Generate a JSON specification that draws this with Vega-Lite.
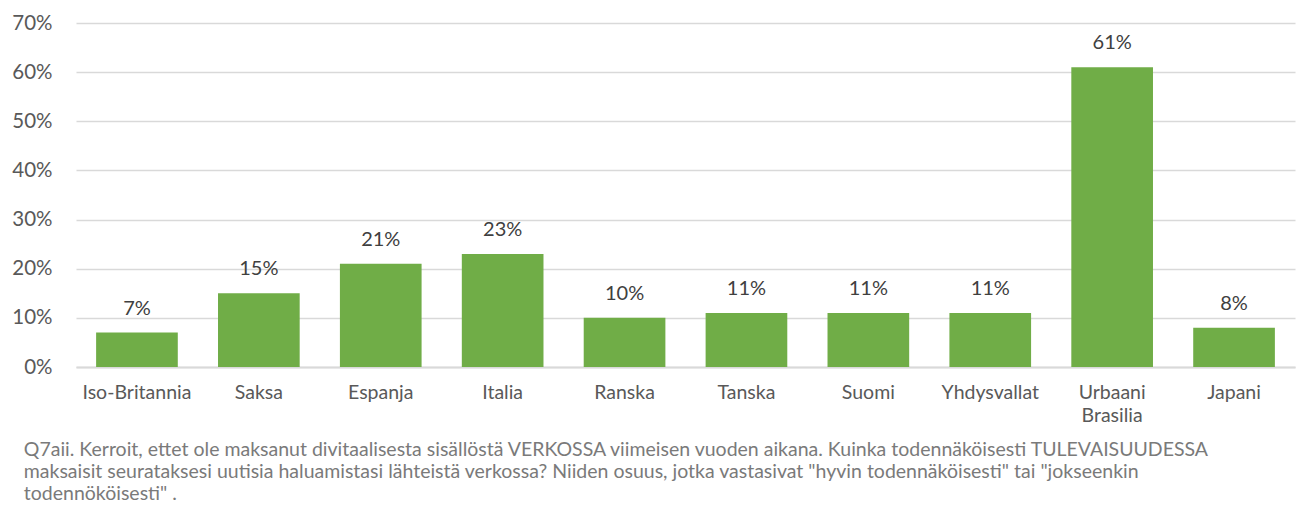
{
  "$schema": "https://vega.github.io/schema/vega-lite/v6.json",
  "width": 1219,
  "height": 344,
  "autosize": {"type": "none"},
  "padding": {"left": 76, "top": 23, "right": 11, "bottom": 165},
  "background": "white",
  "data": {"values": [
    {"maa": "Iso-Britannia", "osuus": 0.07},
    {"maa": "Saksa", "osuus": 0.15},
    {"maa": "Espanja", "osuus": 0.21},
    {"maa": "Italia", "osuus": 0.23},
    {"maa": "Ranska", "osuus": 0.10},
    {"maa": "Tanska", "osuus": 0.11},
    {"maa": "Suomi", "osuus": 0.11},
    {"maa": "Yhdysvallat", "osuus": 0.11},
    {"maa": "Urbaani Brasilia", "osuus": 0.61},
    {"maa": "Japani", "osuus": 0.08}
  ]},
  "title": {
    "text": [
      "Q7aii. Kerroit, ettet ole maksanut divitaalisesta sisällöstä VERKOSSA viimeisen vuoden aikana. Kuinka todennäköisesti TULEVAISUUDESSA",
      "maksaisit seurataksesi uutisia haluamistasi lähteistä verkossa? Niiden osuus, jotka vastasivat \"hyvin todennäköisesti\" tai \"jokseenkin",
      "todennököisesti\" ."
    ],
    "orient": "bottom",
    "anchor": "start",
    "frame": "bounds",
    "font": "Lato",
    "fontSize": 19.5,
    "fontWeight": "normal",
    "color": "#7a7a7a",
    "lineHeight": 22,
    "offset": 16,
    "dx": 12
  },
  "config": {
    "view": {"stroke": null},
    "font": "Lato"
  },
  "layer": [
    {
      "mark": {"type": "bar", "color": "#70AD47"},
      "encoding": {
        "x": {
          "field": "maa", "type": "nominal", "sort": null,
          "scale": {"paddingInner": 0.33, "paddingOuter": 0.165},
          "axis": {
            "title": null, "labelAngle": 0, "ticks": false,
            "domainColor": "#d9d9d9", "domainWidth": 2,
            "labelFont": "Lato", "labelFontSize": 19.5, "labelColor": "#595959",
            "labelPadding": 16, "labelLineHeight": 23,
            "labelExpr": "datum.label == 'Urbaani Brasilia' ? ['Urbaani', 'Brasilia'] : datum.label"
          }
        },
        "y": {
          "field": "osuus", "type": "quantitative",
          "scale": {"domain": [0, 0.7]},
          "axis": {
            "title": null, "format": ".0%", "values": [0, 0.1, 0.2, 0.3, 0.4, 0.5, 0.6, 0.7],
            "labelOverlap": false,
            "domain": false, "ticks": false,
            "gridColor": "#d9d9d9", "gridWidth": 1.5,
            "labelFont": "Lato", "labelFontSize": 20.5, "labelColor": "#595959",
            "labelPadding": 24
          }
        }
      }
    },
    {
      "mark": {"type": "text", "baseline": "alphabetic", "dy": -18, "font": "Lato", "fontSize": 20, "color": "#404040"},
      "encoding": {
        "x": {"field": "maa", "type": "nominal", "sort": null},
        "y": {"field": "osuus", "type": "quantitative"},
        "text": {"field": "osuus", "type": "quantitative", "format": ".0%"}
      }
    }
  ]
}
